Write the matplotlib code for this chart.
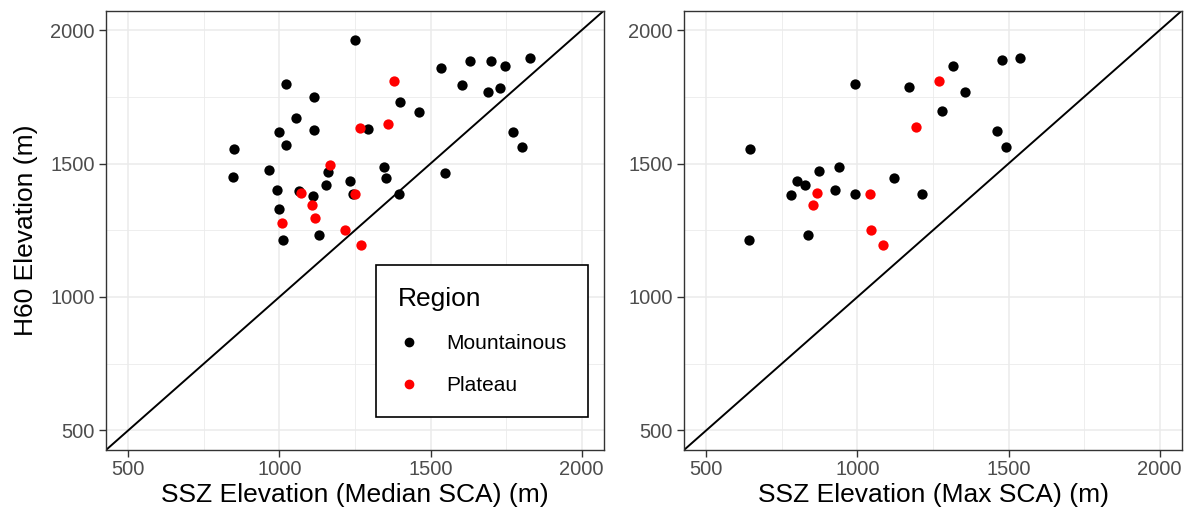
import matplotlib
matplotlib.use('Agg')
import matplotlib.pyplot as plt
from matplotlib.lines import Line2D

plt.rcParams['font.family'] = ['Liberation Sans', 'DejaVu Sans']

# left panel: SSZ elevation from median SCA vs H60 elevation
med_mtn_x = [1249, 1021, 1113, 1055, 1000, 1115, 1021, 849, 845, 965, 1162, 991, 1155,
             1235, 1345, 1351, 1064, 1111, 1000, 1011, 1131, 1243, 1395, 1292, 1398,
             1462, 1535, 1604, 1629, 1699, 1745, 1689, 1730, 1830, 1774, 1803, 1549]
med_mtn_y = [1965, 1797, 1751, 1670, 1620, 1625, 1570, 1556, 1451, 1475, 1469, 1400, 1421,
             1435, 1486, 1445, 1396, 1380, 1330, 1212, 1231, 1387, 1387, 1631, 1731,
             1695, 1859, 1796, 1884, 1884, 1865, 1767, 1784, 1895, 1620, 1561, 1465]
med_plt_x = [1380, 1359, 1265, 1168, 1070, 1249, 1108, 1118, 1010, 1218, 1270]
med_plt_y = [1809, 1650, 1635, 1495, 1390, 1387, 1345, 1296, 1278, 1252, 1196]

# right panel: SSZ elevation from max SCA vs H60 elevation
max_mtn_x = [991, 1171, 1316, 1356, 1280, 1477, 1537, 1461, 1491, 800, 825, 874, 939,
             779, 925, 991, 1120, 1215, 836, 646, 640]
max_mtn_y = [1797, 1786, 1867, 1767, 1696, 1887, 1897, 1621, 1562, 1436, 1420, 1471, 1487,
             1384, 1401, 1386, 1447, 1387, 1231, 1555, 1212]
max_plt_x = [1271, 1195, 865, 854, 1041, 1045, 1086]
max_plt_y = [1810, 1636, 1390, 1346, 1386, 1251, 1196]

ticks = [500, 1000, 1500, 2000]
minor = [750, 1250, 1750]
lims = (426, 2074)

W, H = 1188, 514
fig = plt.figure(figsize=(W / 100, H / 100), dpi=100)
ax1 = fig.add_axes([106 / W, 1 - 450 / H, 498 / W, 439.5 / H])
ax2 = fig.add_axes([684 / W, 1 - 450 / H, 498 / W, 439.5 / H])


def style_panel(ax, xlab):
    ax.set_xlim(lims)
    ax.set_ylim(lims)
    ax.set_xticks(ticks)
    ax.set_yticks(ticks)
    ax.set_xticks(minor, minor=True)
    ax.set_yticks(minor, minor=True)
    ax.tick_params(which='minor', length=0)
    ax.tick_params(which='major', length=5, width=1.0, color='#333333',
                   labelcolor='#4D4D4D', labelsize=14.5)
    ax.tick_params(axis='x', pad=2)
    ax.tick_params(axis='y', pad=3)
    ax.grid(which='major', color='#EBEBEB', lw=1.1)
    ax.grid(which='minor', color='#EBEBEB', lw=0.6)
    ax.set_axisbelow(True)
    for s in ax.spines.values():
        s.set_color('#333333')
        s.set_linewidth(1.0)
    ax.set_xlabel(xlab, fontsize=19, labelpad=3)
    ax.axline((0, 0), (1, 1), color='black', lw=1.4, zorder=2)


ax1.scatter(med_mtn_x, med_mtn_y, s=55, color='black', lw=0, zorder=3)
ax1.scatter(med_plt_x, med_plt_y, s=55, color='red', lw=0, zorder=3)
style_panel(ax1, 'SSZ Elevation (Median SCA) (m)')
ax1.set_ylabel('H60 Elevation (m)', fontsize=19, labelpad=9)

ax2.scatter(max_mtn_x, max_mtn_y, s=55, color='black', lw=0, zorder=3)
ax2.scatter(max_plt_x, max_plt_y, s=55, color='red', lw=0, zorder=3)
style_panel(ax2, 'SSZ Elevation (Max SCA) (m)')

handles = [Line2D([], [], ls='', marker='o', ms=6, color='black'),
           Line2D([], [], ls='', marker='o', ms=6, color='red')]
leg = ax1.legend(handles, ['Mountainous', 'Plateau'], title='Region',
                 loc='lower left', bbox_to_anchor=(376 / W, 1 - 416.7 / H),
                 bbox_transform=fig.transFigure, borderaxespad=0,
                 fontsize=15, title_fontsize=19, frameon=True, fancybox=False,
                 edgecolor='black', framealpha=1, alignment='left',
                 borderpad=1.05, labelspacing=1.1, handletextpad=1.2,
                 handlelength=1.1)
leg.get_frame().set_linewidth(1.2)

fig.savefig('out.png', dpi=100)
